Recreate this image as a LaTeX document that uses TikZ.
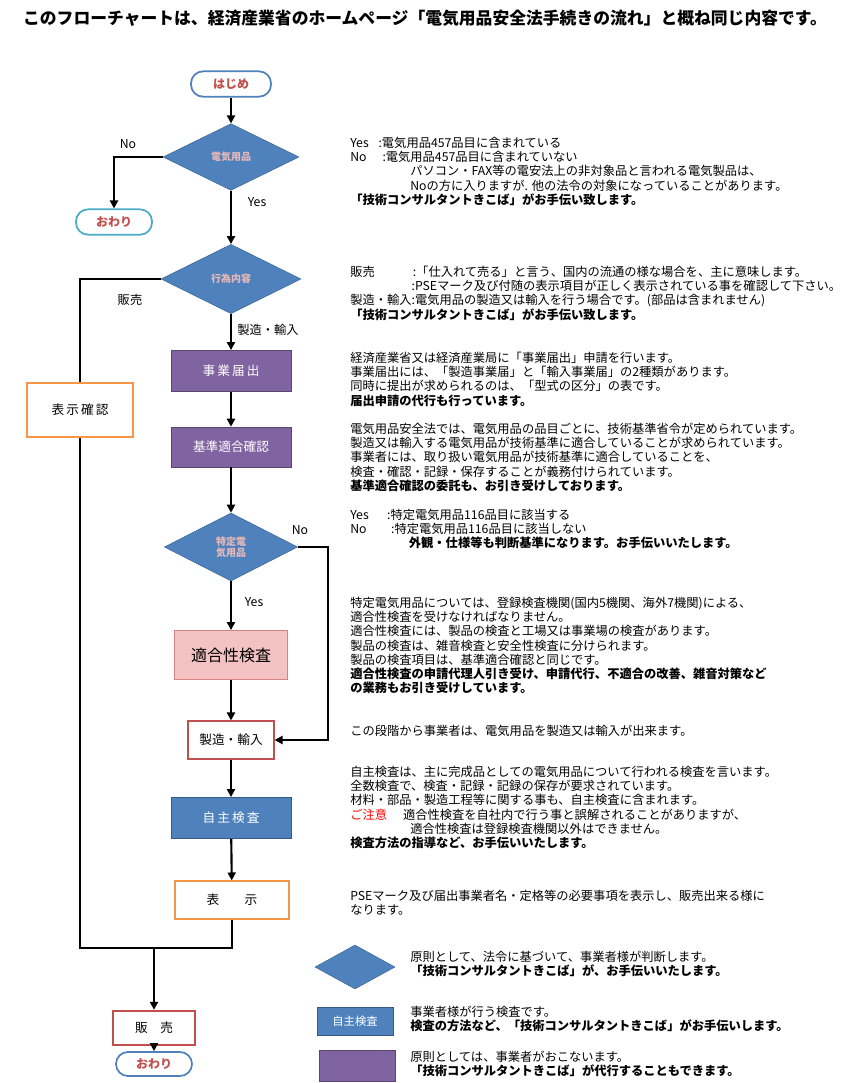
\documentclass[tikz,border=0pt]{standalone}
\usepackage{fontspec}
\setmainfont{Noto Sans CJK JP}
\usetikzlibrary{shapes.geometric,arrows.meta}
\definecolor{dblue}{HTML}{4F81BD}
\definecolor{dpurple}{HTML}{8064A2}
\definecolor{dred}{HTML}{C0504D}
\definecolor{dorange}{HTML}{F79646}
\definecolor{dcyan}{HTML}{4BACC6}
\definecolor{dpink}{HTML}{F4C2C2}
\begin{document}
\begin{tikzpicture}[x=0.75pt,y=-0.75pt,
  txt/.style={anchor=north west,inner sep=0,align=left,font=\fontsize{9.2}{10.6}\selectfont},
  term/.style={draw=#1,line width=1.3pt,rounded corners=9pt,fill=white,minimum width=60pt,minimum height=19pt,inner sep=0,text=dred,font=\fontsize{9}{10}\selectfont\bfseries},
  dia/.style={diamond,fill=dblue,draw=dblue!80!black,inner sep=0,aspect=2,text=dred!40!white,font=\fontsize{7.5}{8}\selectfont\bfseries,align=center},
  pbox/.style={fill=dpurple,draw=dpurple!70!black,text=white,minimum width=90pt,minimum height=31pt,inner sep=0,font=\fontsize{9.5}{10}\selectfont},
  obox/.style={fill=white,draw=#1,line width=1.3pt,minimum width=84pt,minimum height=28pt,inner sep=0,font=\fontsize{9.5}{10}\selectfont},
  arr/.style={line width=1.6pt,-{Triangle[length=6pt,width=6pt]}},
  ln/.style={line width=1.6pt},
  lab/.style={font=\fontsize{9.2}{10}\selectfont,inner sep=0}]
\useasboundingbox (0,0) rectangle (850,1083);
\node[font=\fontsize{12.6}{14}\selectfont\bfseries,inner sep=0] (title) at (425,18) {このフローチャートは、経済産業省のホームページ「電気用品安全法手続きの流れ」と概ね同じ内容です。};

% flow nodes
\node[term=dblue] (start) at (231,84) {はじめ};
\node[dia,minimum width=102pt,minimum height=50pt] (d1) at (231,157) {電気用品};
\node[term=dcyan,minimum width=57pt] (end1) at (114,222) {おわり};
\node[dia,minimum width=105pt,minimum height=52pt] (d2) at (231,279) {行為内容};
\node[pbox] (todoke) at (231,371) {事\,業\,届\,出};
\node[pbox,minimum height=30pt] (kijun) at (231,447) {基準適合確認};
\node[dia,minimum width=100pt,minimum height=51pt] (d3) at (231,547) {特定電\\気用品};
\node[fill=dpink,draw=dred!70,minimum width=85pt,minimum height=37pt,inner sep=0,font=\fontsize{12}{13}\selectfont] (tekigo) at (231,655) {適合性検査};
\node[obox=dred,minimum width=64pt] (seizo) at (231,740) {製造・輸入};
\node[pbox,fill=dblue,draw=dblue!70!black] (jishu) at (231,818) {自\,主\,検\,査};
\node[obox=dorange,minimum width=86pt] (hyoji) at (232,900) {表\hspace{2em}示};
\node[obox=dred,minimum width=62pt,minimum height=26pt] (hanbai) at (154,1028) {販\hspace{1em}売};
\node[term=dblue,minimum width=57pt,minimum height=18pt] (end2) at (154,1064) {おわり};

\coordinate (jL) at (80,948);
\coordinate (jR) at (232,948);
\coordinate (jM) at (154,948);
\coordinate (rr) at (328,740);

% connectors
\draw[arr] (start) -- (d1);
\draw[arr] (d1.west) -| (end1.north);
\draw[arr] (d1) -- (d2);
\draw[ln] (d2.west) -| (jL) -- (jR) -- (hyoji.south);
\draw[arr] (jM) -- (hanbai.north);
\draw[arr] (d2) -- (todoke);
\draw[arr] (todoke) -- (kijun);
\draw[arr] (kijun) -- (d3.north);
\draw[arr] (d3.east) -| (rr) -- (seizo.east);
\draw[arr] (d3) -- (tekigo);
\draw[arr] (tekigo) -- (seizo);
\draw[arr] (seizo) -- (jishu);
\draw[arr] (jishu) -- (hyoji);
\draw[arr] (hanbai) -- (end2);

\node[obox=dorange,minimum width=79pt,minimum height=40pt] (hkaku) at (80,410) {表\,示\,確\,認};

\node[lab] (lno1) at (128,144) {No};
\node[lab] (lyes1) at (257,202) {Yes};
\node[lab] (lhan) at (130,300) {販売};
\node[lab] (lsei) at (268,330) {製造・輸入};
\node[lab] (lno3) at (300,530) {No};
\node[lab] (lyes3) at (254,602) {Yes};

% text blocks
\node[txt] (t1) at (350,137) {Yes\hspace{0.8em}:電気用品457品目に含まれている\\No\hspace{1.3em}:電気用品457品目に含まれていない\\\hspace*{45pt}パソコン・FAX等の電安法上の非対象品と言われる電気製品は、\\\hspace*{45pt}Noの方に入りますが. 他の法令の対象になっていることがあります。\\\textbf{「技術コンサルタントきこば」がお手伝い致します。}};
\node[txt] (t2) at (350,266) {販売\hspace{3.1em}:「仕入れて売る」と言う、国内の流通の様な場合を、主に意味します。\\\hspace*{46pt}:PSEマーク及び付随の表示項目が正しく表示されている事を確認して下さい。\\製造・輸入:電気用品の製造又は輸入を行う場合です。(部品は含まれません)\\\textbf{「技術コンサルタントきこば」がお手伝い致します。}};
\node[txt] (t3) at (350,352) {経済産業省又は経済産業局に「事業届出」申請を行います。\\事業届出には、「製造事業届」と「輸入事業届」の2種類があります。\\同時に提出が求められるのは、「型式の区分」の表です。\\\textbf{届出申請の代行も行っています。}};
\node[txt] (t4) at (350,423) {電気用品安全法では、電気用品の品目ごとに、技術基準省令が定められています。\\製造又は輸入する電気用品が技術基準に適合していることが求められています。\\事業者には、取り扱い電気用品が技術基準に適合していることを、\\検査・確認・記録・保存することが義務付けられています。\\\textbf{基準適合確認の委託も、お引き受けしております。}};
\node[txt] (t5) at (350,509) {Yes\hspace{1.5em}:特定電気用品116品目に該当する\\No\hspace{2em}:特定電気用品116品目に該当しない\\\hspace*{44pt}\textbf{外観・仕様等も判断基準になります。お手伝いいたします。}};
\node[txt] (t6) at (350,597) {特定電気用品については、登録検査機関(国内5機関、海外7機関)による、\\適合性検査を受けなければなりません。\\適合性検査には、製品の検査と工場又は事業場の検査があります。\\製品の検査は、雑音検査と安全性検査に分けられます。\\製品の検査項目は、基準適合確認と同じです。\\\textbf{適合性検査の申請代理人引き受け、申請代行、不適合の改善、雑音対策など}\\\textbf{の業務もお引き受けしています。}};
\node[txt] (t7) at (350,725) {この段階から事業者は、電気用品を製造又は輸入が出来ます。};
\node[txt] (t8) at (350,766) {自主検査は、主に完成品としての電気用品について行われる検査を言います。\\全数検査で、検査・記録・記録の保存が要求されています。\\材料・部品・製造工程等に関する事も、自主検査に含まれます。\\\textcolor{red}{ご注意}\hspace{1.3em}適合性検査を自社内で行う事と誤解されることがありますが、\\\hspace*{45pt}適合性検査は登録検査機関以外はできません。\\\textbf{検査方法の指導など、お手伝いいたします。}};
\node[txt] (t9) at (350,890) {PSEマーク及び届出事業者名・定格等の必要事項を表示し、販売出来る様に\\なります。};

% legend
\node[dia,minimum width=60pt,minimum height=33pt] (lg1) at (355,967) {};
\node[fill=dblue,draw=dblue!70!black,text=white,minimum width=57pt,minimum height=21pt,inner sep=0,font=\fontsize{8.5}{9}\selectfont] (lg2) at (355,1021) {自主検査};
\node[fill=dpurple,draw=dpurple!70!black,minimum width=57pt,minimum height=23pt,inner sep=0] (lg3) at (357,1066) {};
\node[txt] (tl1) at (410,951) {原則として、法令に基づいて、事業者様が判断します。\\\textbf{「技術コンサルタントきこば」が、お手伝いいたします。}};
\node[txt] (tl2) at (410,1006) {事業者様が行う検査です。\\\textbf{検査の方法など、「技術コンサルタントきこば」がお手伝いします。}};
\node[txt] (tl3) at (410,1051) {原則としては、事業者がおこないます。\\\textbf{「技術コンサルタントきこば」が代行することもできます。}};
\end{tikzpicture}
\end{document}
